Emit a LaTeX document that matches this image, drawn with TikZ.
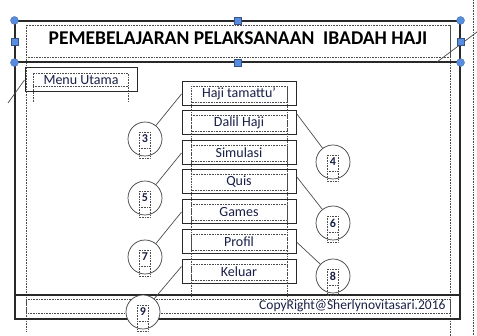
\documentclass[tikz,border=0pt]{standalone}
\usepackage{fontspec}
\setmainfont{Carlito}
\usetikzlibrary{calc}

\definecolor{handleblue}{RGB}{88,140,222}
\definecolor{inkgray}{RGB}{40,40,40}
\definecolor{txtnavy}{RGB}{25,30,70}

\tikzset{
  panel/.style={draw=inkgray, line width=1.1pt, inner sep=0pt},
  btn/.style={draw=inkgray, line width=1pt, minimum width=114pt, minimum height=24pt,
              inner sep=0pt, font=\fontsize{14}{14}\selectfont, text=txtnavy},
  tbox/.style={draw=black!70, densely dotted, line width=0.6pt},
  callout/.style={circle, draw=black!75, line width=0.7pt, fill=white, minimum size=34pt,
                  inner sep=0pt, font=\fontsize{12}{12}\selectfont\bfseries, text=txtnavy},
  lead/.style={draw=black!70, line width=0.7pt},
  hround/.style={circle, fill=handleblue, draw=handleblue!70!black, line width=0.3pt,
                 minimum size=8pt, inner sep=0pt},
  hsquare/.style={rectangle, fill=handleblue, draw=handleblue!60!black, line width=0.3pt,
                  minimum size=7pt, inner sep=0pt},
}

\begin{document}
\begin{tikzpicture}[x=1pt,y=-1pt]
\useasboundingbox (0,0) rectangle (477,336);

% dotted guides of the text boxes
\draw[tbox] (473,0) -- (473,336);
\draw[tbox] (26,25) -- (26,332);
\draw[tbox] (450,25) -- (450,336);

% page frame, header and footer
\node[panel, minimum width=445pt, minimum height=257pt] (body) at (237.5,190.5) {};
\node[panel, minimum width=445pt, minimum height=41pt] (header) at (237.5,41.5) {};
\draw[tbox] (26,25) rectangle (450,57);
\node[font=\fontsize{19.5}{19.5}\selectfont\bfseries] (title) at (238,38)
  {PEMEBELAJARAN PELAKSANAAN\ \ IBADAH HAJI};

\node[panel, minimum width=445pt, minimum height=24pt] (footer) at (237.5,307) {};
\draw[tbox] (26,299) rectangle (450,313);
\node[anchor=east, font=\fontsize{13.5}{13.5}\selectfont, text=txtnavy] (copy) at (449,306)
  {CopyRight@Sherlynovitasari.2016};

% menu title
\node[btn, minimum width=112pt] (menu) at (81,80) {Menu Utama};
\draw[tbox] (33,102) -- (33,73) -- (128,73) -- (128,102);
\draw[tbox] (33,86) -- (128,86);
\coordinate (lstub) at (8,103);
\draw[lead] (menu.west) -- (lstub);
\coordinate (rstubA) at (437,62);
\coordinate (rstubB) at (477,32);
\draw[lead] (rstubA) -- (rstubB);

% menu buttons
\foreach \nm/\txt/\yy in {hj/Haji tamattu'/94, dalil/Dalil Haji/123, sim/Simulasi/153,
                          quis/Quis/182, games/Games/212, profil/Profil/242, keluar/Keluar/272}
  \node[btn] (\nm) at (239,\yy) {\txt};
\foreach \nm in {hj,dalil,sim,quis,games,profil,keluar}
  \draw[tbox] ([xshift=10pt,yshift=-5pt]\nm.north west) rectangle ([xshift=-9pt,yshift=4pt]\nm.south east);
\draw[tbox] ([xshift=10pt,yshift=-5pt]hj.north west) -- ++(0,210);
\draw[tbox] ([xshift=-9pt,yshift=-5pt]hj.north east) -- ++(0,210);

% numbered callouts
\foreach \nm/\num/\xx/\yy in {c3/3/145/139, c4/4/333/162, c5/5/145/198, c6/6/333/223,
                              c7/7/145/257, c8/8/333/276, c9/9/143/312} {
  \node[callout] (\nm) at (\xx,\yy) {\num};
  \draw[tbox] ([shift={(-6pt,7pt)}]\nm.center) rectangle ([shift={(5pt,-19pt)}]\nm.center);
  \draw[tbox] ([shift={(-6pt,-9pt)}]\nm.center) -- ([shift={(5pt,-9pt)}]\nm.center);
}
\draw[lead] (c3) -- (hj.west);
\draw[lead] (c4) -- ($(dalil.north east)+(0,3)$);
\draw[lead] (c5) -- (sim.west);
\draw[lead] (c6) -- ($(quis.north east)+(0,7)$);
\draw[lead] (c7) -- (games.west);
\draw[lead] (c8) -- (profil.east);
\draw[lead] (c9) -- ($(keluar.north west)+(0,7)$);

% selection handles
\foreach \an in {north west, north east, south west, south east}
  \node[hround] at (header.\an) {};
\foreach \an in {north, south, west, east}
  \node[hsquare] at (header.\an) {};
\end{tikzpicture}
\end{document}
